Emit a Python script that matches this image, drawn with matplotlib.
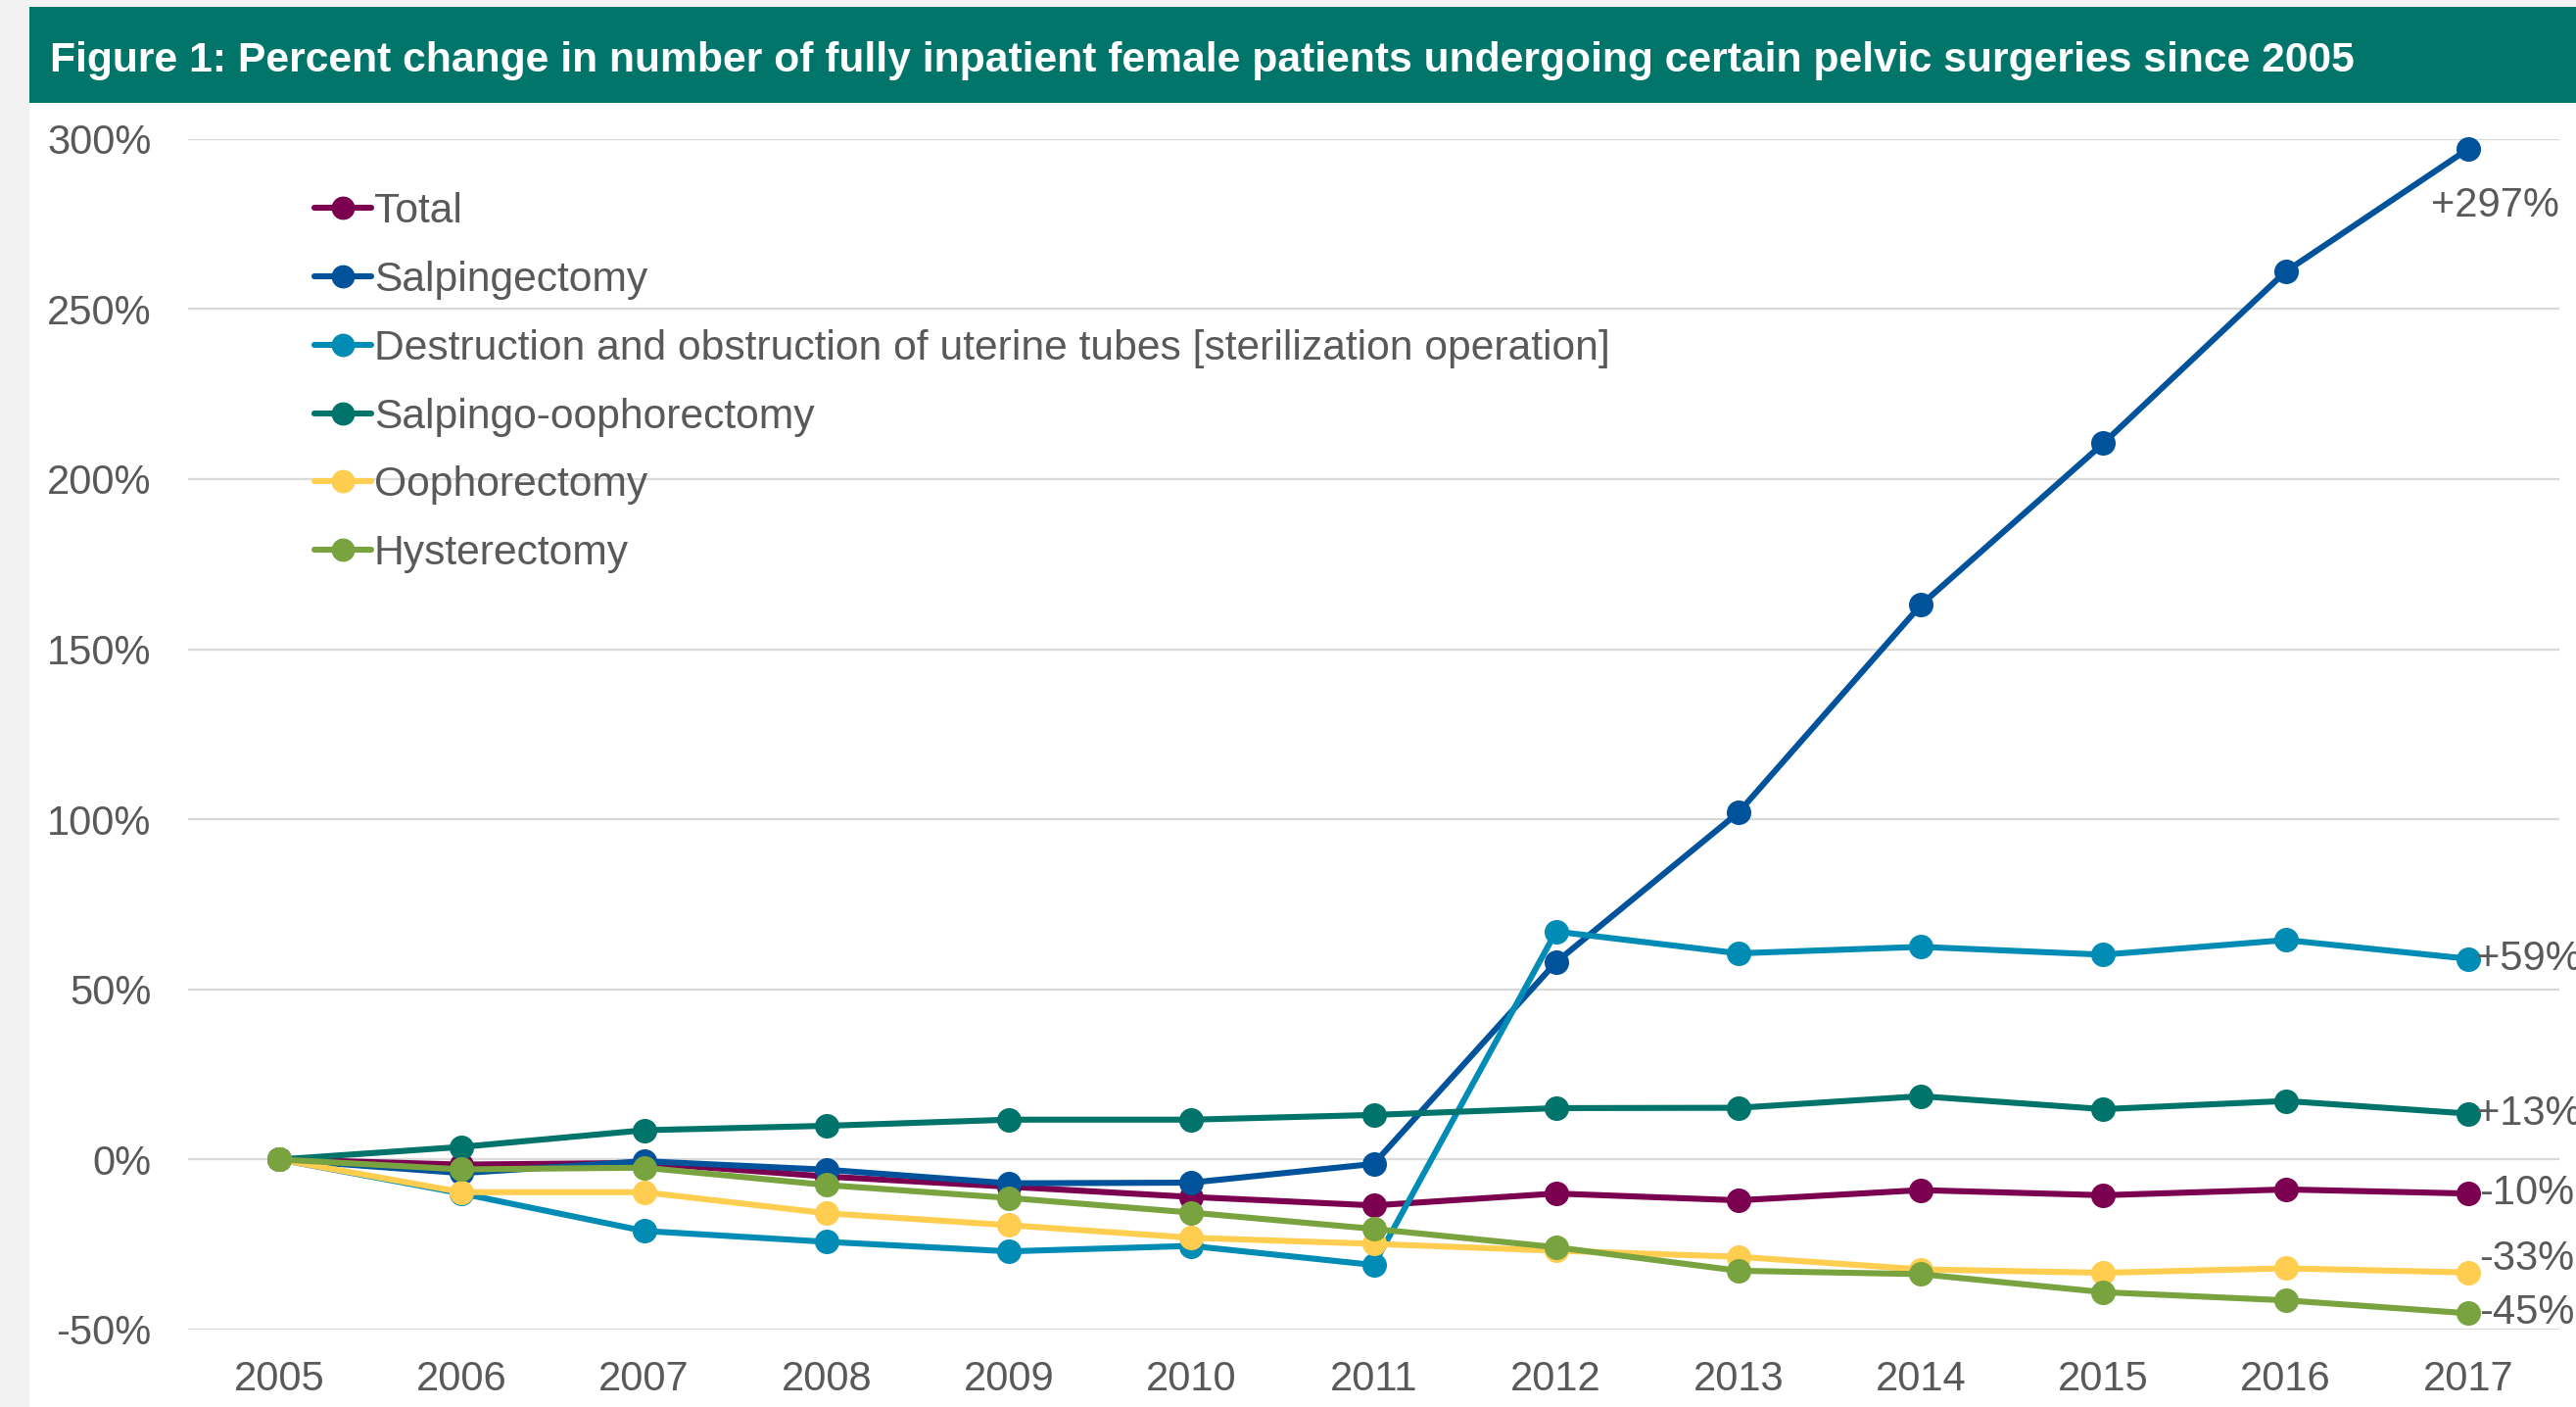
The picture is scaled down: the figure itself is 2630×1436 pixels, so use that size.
import matplotlib
matplotlib.use('Agg')
import matplotlib.pyplot as plt
from matplotlib.patches import Rectangle

plt.rcParams['font.family'] = ['Liberation Sans', 'DejaVu Sans']

# data -------------------------------------------------
years = ['2005', '2006', '2007', '2008', '2009', '2010', '2011',
         '2012', '2013', '2014', '2015', '2016', '2017']

total = [0, -1.5, -1, -5, -8, -11, -13.5, -10, -12, -9, -10.5, -8.8, -10]
salpingectomy = [0, -4, -0.5, -3, -7, -6.8, -1.3, 58, 102, 163, 210.5, 261, 297]
destruction = [0, -10, -21, -24.2, -27, -25.4, -31, 67, 60.6, 62.5, 60.2, 64.5, 59]
salpingo_ooph = [0, 3.7, 8.6, 9.9, 11.7, 11.7, 13.1, 15.1, 15.2, 18.6, 14.8, 17.2, 13.5]
oophorectomy = [0, -9.6, -9.6, -15.8, -19.3, -23, -24.8, -26.8, -28.6, -32.3, -33.3, -32, -33.2]
hysterectomy = [0, -2.9, -2.4, -7.5, -11.3, -15.6, -20.4, -25.8, -32.7, -33.7, -39, -41.4, -45.2]

series_names = ['Total', 'Salpingectomy',
                'Destruction and obstruction of uterine tubes [sterilization operation]',
                'Salpingo-oophorectomy', 'Oophorectomy', 'Hysterectomy']
series_vals = [total, salpingectomy, destruction, salpingo_ooph, oophorectomy, hysterectomy]
series_colors = ['#7b0050', '#00529b', '#008cb4', '#00746a', '#ffcd4f', '#78a33f']
end_labels = ['-10%', '+297%', '+59%', '+13%', '-33%', '-45%']

# offsets of the end labels in points (dx, dy)
label_offsets = [(8, 0), (-27, -42), (6, 0), (6, 0), (8, 10), (8, 0)]

y_ticks = [-50, 0, 50, 100, 150, 200, 250, 300]

TXT = '#595959'
FS = 30

# --------------------------------------------------
W, H = 2630, 1436
fig = plt.figure(figsize=(W / 100, H / 100), dpi=100, facecolor='#f2f2f2')

# white panel and title bar
fig.patches.append(Rectangle((30 / W, 0), 1 - 30 / W, 1 - 105 / H,
                             transform=fig.transFigure, facecolor='white',
                             edgecolor='none', zorder=-10))
fig.patches.append(Rectangle((30 / W, 1 - 105 / H), 1 - 30 / W, 98 / H,
                             transform=fig.transFigure, facecolor='#02756b',
                             edgecolor='none', zorder=-10))
fig.text(51 / W, 1 - 73 / H,
         'Figure 1: Percent change in number of fully inpatient female patients '
         'undergoing certain pelvic surgeries since 2005',
         color='white', fontsize=30.7, fontweight='bold', ha='left', va='baseline')

ax = fig.add_axes([192 / W, 1 - 1357 / H, 2421 / W, (1357 - 141.7) / H])
ax.set_zorder(1)
ax.set_facecolor('none')

x = list(range(len(years)))
for name, vals, col in zip(series_names, series_vals, series_colors):
    ax.plot(x, vals, color=col, lw=4.4, marker='o', ms=17, label=name,
            solid_capstyle='round', clip_on=False, zorder=3)

for vals, col, lab, off in zip(series_vals, series_colors, end_labels, label_offsets):
    ax.annotate(lab, (x[-1], vals[-1]), xytext=off, textcoords='offset points',
                ha='left', va='center', fontsize=FS, color=TXT,
                annotation_clip=False, zorder=4)

ax.set_xlim(-0.5, 12.5)
ax.set_ylim(-50, 300)
ax.set_xticks(x)
ax.set_xticklabels(years)
ax.set_yticks(y_ticks)
ax.set_yticklabels(['{}%'.format(v) for v in y_ticks])
ax.tick_params(axis='both', length=0, labelsize=FS, labelcolor=TXT)
ax.tick_params(axis='y', pad=27)
ax.tick_params(axis='x', pad=22)
ax.grid(axis='y', color='#d9d9d9', lw=1.6, zorder=1)
ax.set_axisbelow(True)
for s in ax.spines.values():
    s.set_visible(False)

leg = ax.legend(loc='upper left', bbox_to_anchor=(321 / W, 1 - 196 / H),
                bbox_transform=fig.transFigure, frameon=False, fontsize=30.7,
                labelcolor=TXT, handlelength=1.35, handletextpad=0.08,
                labelspacing=0.7, borderpad=0, borderaxespad=0, markerscale=0.95)

fig.savefig('out.png', dpi=100, facecolor=fig.get_facecolor())
